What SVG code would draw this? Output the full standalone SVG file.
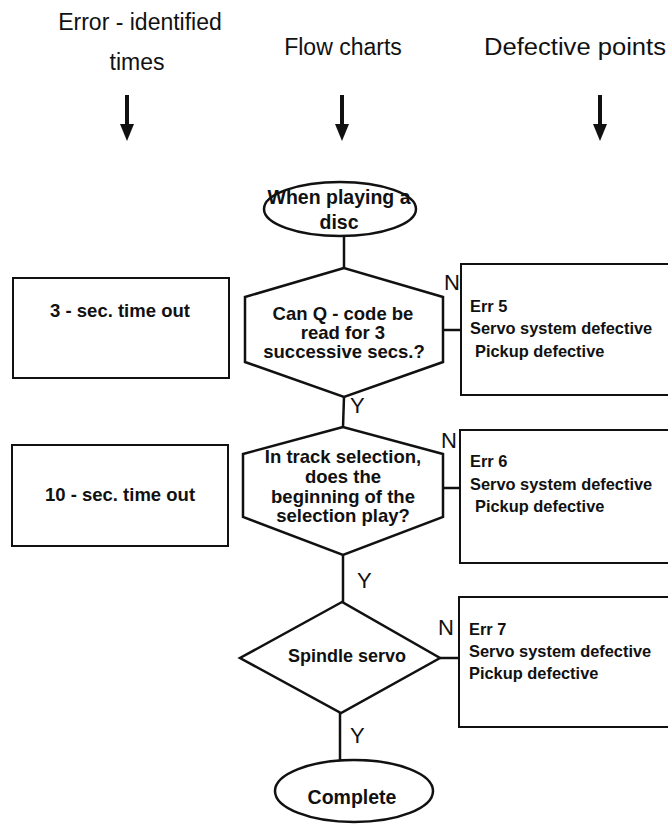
<svg xmlns="http://www.w3.org/2000/svg" width="668" height="826" viewBox="0 0 668 826">
<style>
.hdr{font-family:"Liberation Sans",Arial,sans-serif;font-size:23px;fill:#111}
.ft{font-family:"Liberation Sans",Arial,sans-serif;font-size:18.5px;font-weight:bold;fill:#111;text-anchor:middle}
.rt{font-family:"Liberation Sans",Arial,sans-serif;font-size:16.4px;font-weight:bold;fill:#111}
.lbl{font-family:"Liberation Sans",Arial,sans-serif;font-size:22px;fill:#111}
.sh{fill:#fff;stroke:#111;stroke-width:2.5}
.bx{fill:#fff;stroke:#111;stroke-width:2}
.cn{stroke:#111;stroke-width:2.5;fill:none}
.ar{stroke:#111;stroke-width:4}
</style>
<rect width="668" height="826" fill="#fff"/>
<g id="headers">
<text class="hdr" x="140" y="30" text-anchor="middle">Error - identified</text>
<text class="hdr" x="137" y="70" text-anchor="middle">times</text>
<text class="hdr" x="343" y="55" text-anchor="middle">Flow charts</text>
<text class="hdr" x="484" y="55" textLength="182" lengthAdjust="spacingAndGlyphs">Defective points</text>
<line class="ar" x1="127" y1="95" x2="127" y2="126"/>
<polygon points="120,124 134,124 127,141" fill="#111"/>
<line class="ar" x1="342" y1="95" x2="342" y2="126"/>
<polygon points="335,124 349,124 342,141" fill="#111"/>
<line class="ar" x1="600" y1="95" x2="600" y2="126"/>
<polygon points="593,124 607,124 600,141" fill="#111"/>
</g>
<g id="connectors">
<line class="cn" x1="344" y1="236" x2="344" y2="268"/>
<line class="cn" x1="344" y1="397" x2="343" y2="427"/>
<line class="cn" x1="343" y1="555" x2="343" y2="602"/>
<line class="cn" x1="340" y1="713" x2="340" y2="760"/>
<line class="cn" x1="443" y1="330" x2="461" y2="330"/>
<line class="cn" x1="443" y1="488" x2="460" y2="488"/>
<line class="cn" x1="440" y1="658" x2="459" y2="658"/>
<text class="lbl" x="444" y="290">N</text>
<text class="lbl" x="350" y="413">Y</text>
<text class="lbl" x="441" y="448">N</text>
<text class="lbl" x="357" y="588">Y</text>
<text class="lbl" x="438" y="635">N</text>
<text class="lbl" x="350" y="743">Y</text>
</g>
<g id="start">
<ellipse class="sh" cx="340" cy="209" rx="76" ry="27"/>
<text class="ft" x="339" y="204" style="font-size:19.5px">When playing a</text>
<text class="ft" x="339" y="229" style="font-size:19.5px">disc</text>
</g>
<g id="q-code">
<polygon class="sh" points="344,268 245,297 245,362 344,397 443,362 443,297"/>
<text class="ft" x="343" y="320">Can Q - code be</text>
<text class="ft" x="343" y="339">read for 3</text>
<text class="ft" x="344" y="358">successive secs.?</text>
</g>
<g id="track-sel">
<polygon class="sh" points="343,427 243,454 243,517 343,555 443,517 443,454"/>
<text class="ft" x="343" y="463">In track selection,</text>
<text class="ft" x="343" y="483">does the</text>
<text class="ft" x="343" y="503">beginning of the</text>
<text class="ft" x="343" y="522">selection play?</text>
</g>
<g id="spindle">
<polygon class="sh" points="342,602 240,658 341,713 440,658"/>
<text class="ft" x="347" y="662" style="font-size:18px">Spindle servo</text>
</g>
<g id="complete">
<ellipse class="sh" cx="354" cy="791" rx="79" ry="31"/>
<text class="ft" x="352" y="804" style="font-size:19.5px">Complete</text>
</g>
<g id="time3">
<rect class="bx" x="13" y="278" width="216" height="100"/>
<text class="ft" x="120" y="317">3 - sec. time out</text>
</g>
<g id="time10">
<rect class="bx" x="12" y="445" width="216" height="101"/>
<text class="ft" x="120" y="501">10 - sec. time out</text>
</g>
<g id="err5">
<rect class="bx" x="461" y="264" width="230" height="131"/>
<text class="rt" x="470" y="312">Err 5</text>
<text class="rt" x="470" y="334">Servo system defective</text>
<text class="rt" x="475" y="357">Pickup defective</text>
</g>
<g id="err6">
<rect class="bx" x="460" y="430" width="230" height="133"/>
<text class="rt" x="470" y="467">Err 6</text>
<text class="rt" x="470" y="490">Servo system defective</text>
<text class="rt" x="475" y="512">Pickup defective</text>
</g>
<g id="err7">
<rect class="bx" x="459" y="597" width="230" height="130"/>
<text class="rt" x="469" y="635">Err 7</text>
<text class="rt" x="469" y="657">Servo system defective</text>
<text class="rt" x="469" y="679">Pickup defective</text>
</g>
</svg>
